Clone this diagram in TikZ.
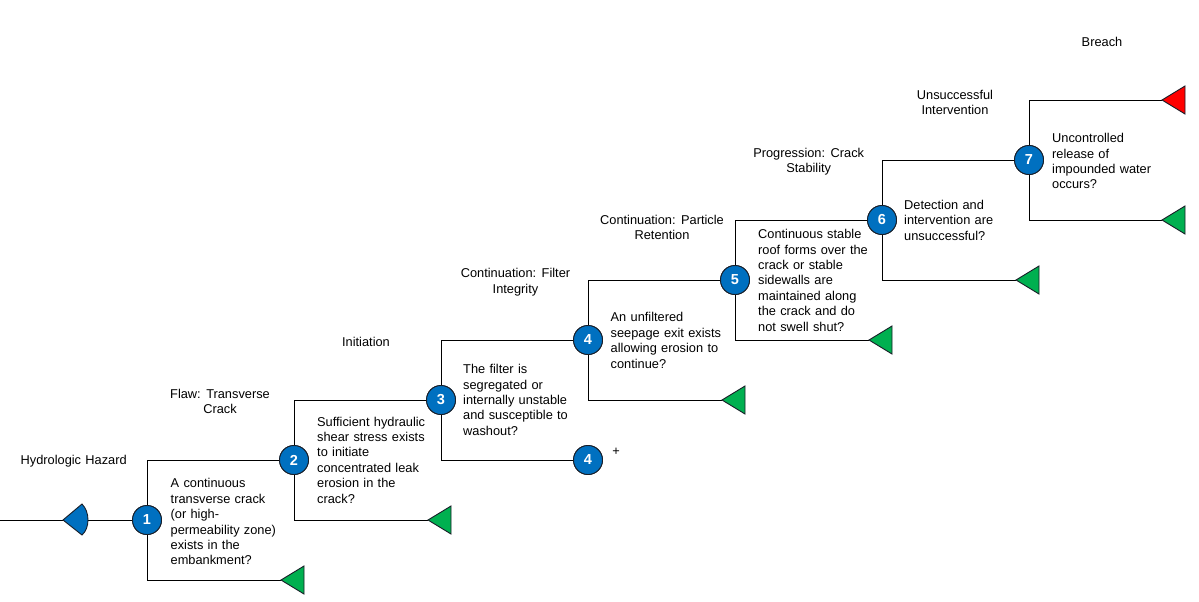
\documentclass[tikz,border=0pt]{standalone}
\usepackage{fontspec}
\setmainfont{Liberation Sans}
\definecolor{gfill}{RGB}{0,176,80}
\definecolor{bfill}{RGB}{0,112,192}
\definecolor{rfill}{RGB}{255,0,0}
\definecolor{edge}{RGB}{25,30,40}
\newcommand\dtfont{\fontsize{12.8}{15.4}\selectfont\spaceskip=4.3pt\relax}
\newcommand\numfont{\fontsize{14.5}{16}\selectfont\bfseries}
\tikzset{
  evnode/.style={circle, fill=bfill, draw=edge, line width=0.9pt, minimum size=29pt, inner sep=0pt, text=white, font=\numfont},
  qtext/.style={anchor=north west, align=left, inner sep=0pt, font=\dtfont},
  lbl/.style={anchor=north, align=center, inner sep=0pt, font=\dtfont},
  conn/.style={draw=black, line width=1pt},
  pics/endtri/.style={code={\filldraw[fill=#1, draw=edge, line width=0.9pt] (0,0) -- (23,-14) -- (23,14) -- cycle;}}
}
\begin{document}
\begin{tikzpicture}[x=1pt,y=-1pt]
\useasboundingbox (0,0) rectangle (1199,602);
% event nodes
\node[evnode] (n1) at (147,520) {1};
\node[evnode] (n2) at (294,460) {2};
\node[evnode] (n3) at (441,400) {3};
\node[evnode] (n4a) at (588,340) {4};
\node[evnode] (n4b) at (588,460) {4};
\node[evnode] (n5) at (735,280) {5};
\node[evnode] (n6) at (882,220) {6};
\node[evnode] (n7) at (1029,160) {7};
% end points
\coordinate (start) at (0,520);
\coordinate (t1) at (281,580);
\coordinate (t2) at (428,520);
\coordinate (t4) at (722,400);
\coordinate (t5) at (869,340);
\coordinate (t6) at (1016,280);
\coordinate (t7a) at (1162,100);
\coordinate (t7b) at (1162,220);
% connectors
\draw[conn] (start) -- (n1);
\draw[conn] (n1.north) |- (n2);
\draw[conn] (n1.south) |- (t1);
\draw[conn] (n2.north) |- (n3);
\draw[conn] (n2.south) |- (t2);
\draw[conn] (n3.north) |- (n4a);
\draw[conn] (n3.south) |- (n4b);
\draw[conn] (n4a.north) |- (n5);
\draw[conn] (n4a.south) |- (t4);
\draw[conn] (n5.north) |- (n6);
\draw[conn] (n5.south) |- (t5);
\draw[conn] (n6.north) |- (n7);
\draw[conn] (n6.south) |- (t6);
\draw[conn] (n7.north) |- (t7a);
\draw[conn] (n7.south) |- (t7b);
% redraw circles on top
\node[evnode] at (n1) {1};
\node[evnode] at (n2) {2};
\node[evnode] at (n3) {3};
\node[evnode] at (n4a) {4};
\node[evnode] at (n4b) {4};
\node[evnode] at (n5) {5};
\node[evnode] at (n6) {6};
\node[evnode] at (n7) {7};
% initiating event symbol
\filldraw[fill=bfill, draw=edge, line width=0.9pt] (63,520) -- (82,504) .. controls (90,512) and (90,528) .. (82,535) -- cycle;
% end triangles
\pic at (t1) {endtri=gfill};
\pic at (t2) {endtri=gfill};
\pic at (t4) {endtri=gfill};
\pic at (t5) {endtri=gfill};
\pic at (t6) {endtri=gfill};
\pic at (t7a) {endtri=rfill};
\pic at (t7b) {endtri=gfill};
% plus
\node[font=\dtfont, inner sep=0pt] (plus) at (616,452) {+};
% headings
\node[lbl] (h0) at (73.7,455) {Hydrologic Hazard};
\node[lbl] (h1) at (220,389) {Flaw: Transverse\\Crack};
\node[lbl] (h2) at (366,336.7) {Initiation};
\node[lbl] (h3) at (515.5,268.3) {Continuation: Filter\\Integrity};
\node[lbl] (h4) at (662,215) {Continuation: Particle\\Retention};
\node[lbl] (h5) at (808.7,148) {Progression: Crack\\Stability};
\node[lbl] (h6) at (955,90) {Unsuccessful\\Intervention};
\node[lbl] (h7) at (1102,36.7) {Breach};
% questions
\node[qtext] (q1) at (170.5,478.5) {A continuous\\transverse crack\\(or high-\\permeability zone)\\exists in the\\embankment?};
\node[qtext] (q2) at (317,416.7) {Sufficient hydraulic\\shear stress exists\\to initiate\\concentrated leak\\erosion in the\\crack?};
\node[qtext] (q3) at (463,364.3) {The filter is\\segregated or\\internally unstable\\and susceptible to\\washout?};
\node[qtext] (q4) at (610.5,312.5) {An unfiltered\\seepage exit exists\\allowing erosion to\\continue?};
\node[qtext] (q5) at (758,229.3) {Continuous stable\\roof forms over the\\crack or stable\\sidewalls are\\maintained along\\the crack and do\\not swell shut?};
\node[qtext] (q6) at (904,200) {Detection and\\intervention are\\unsuccessful?};
\node[qtext] (q7) at (1052,133.3) {Uncontrolled\\release of\\impounded water\\occurs?};
\end{tikzpicture}
\end{document}
